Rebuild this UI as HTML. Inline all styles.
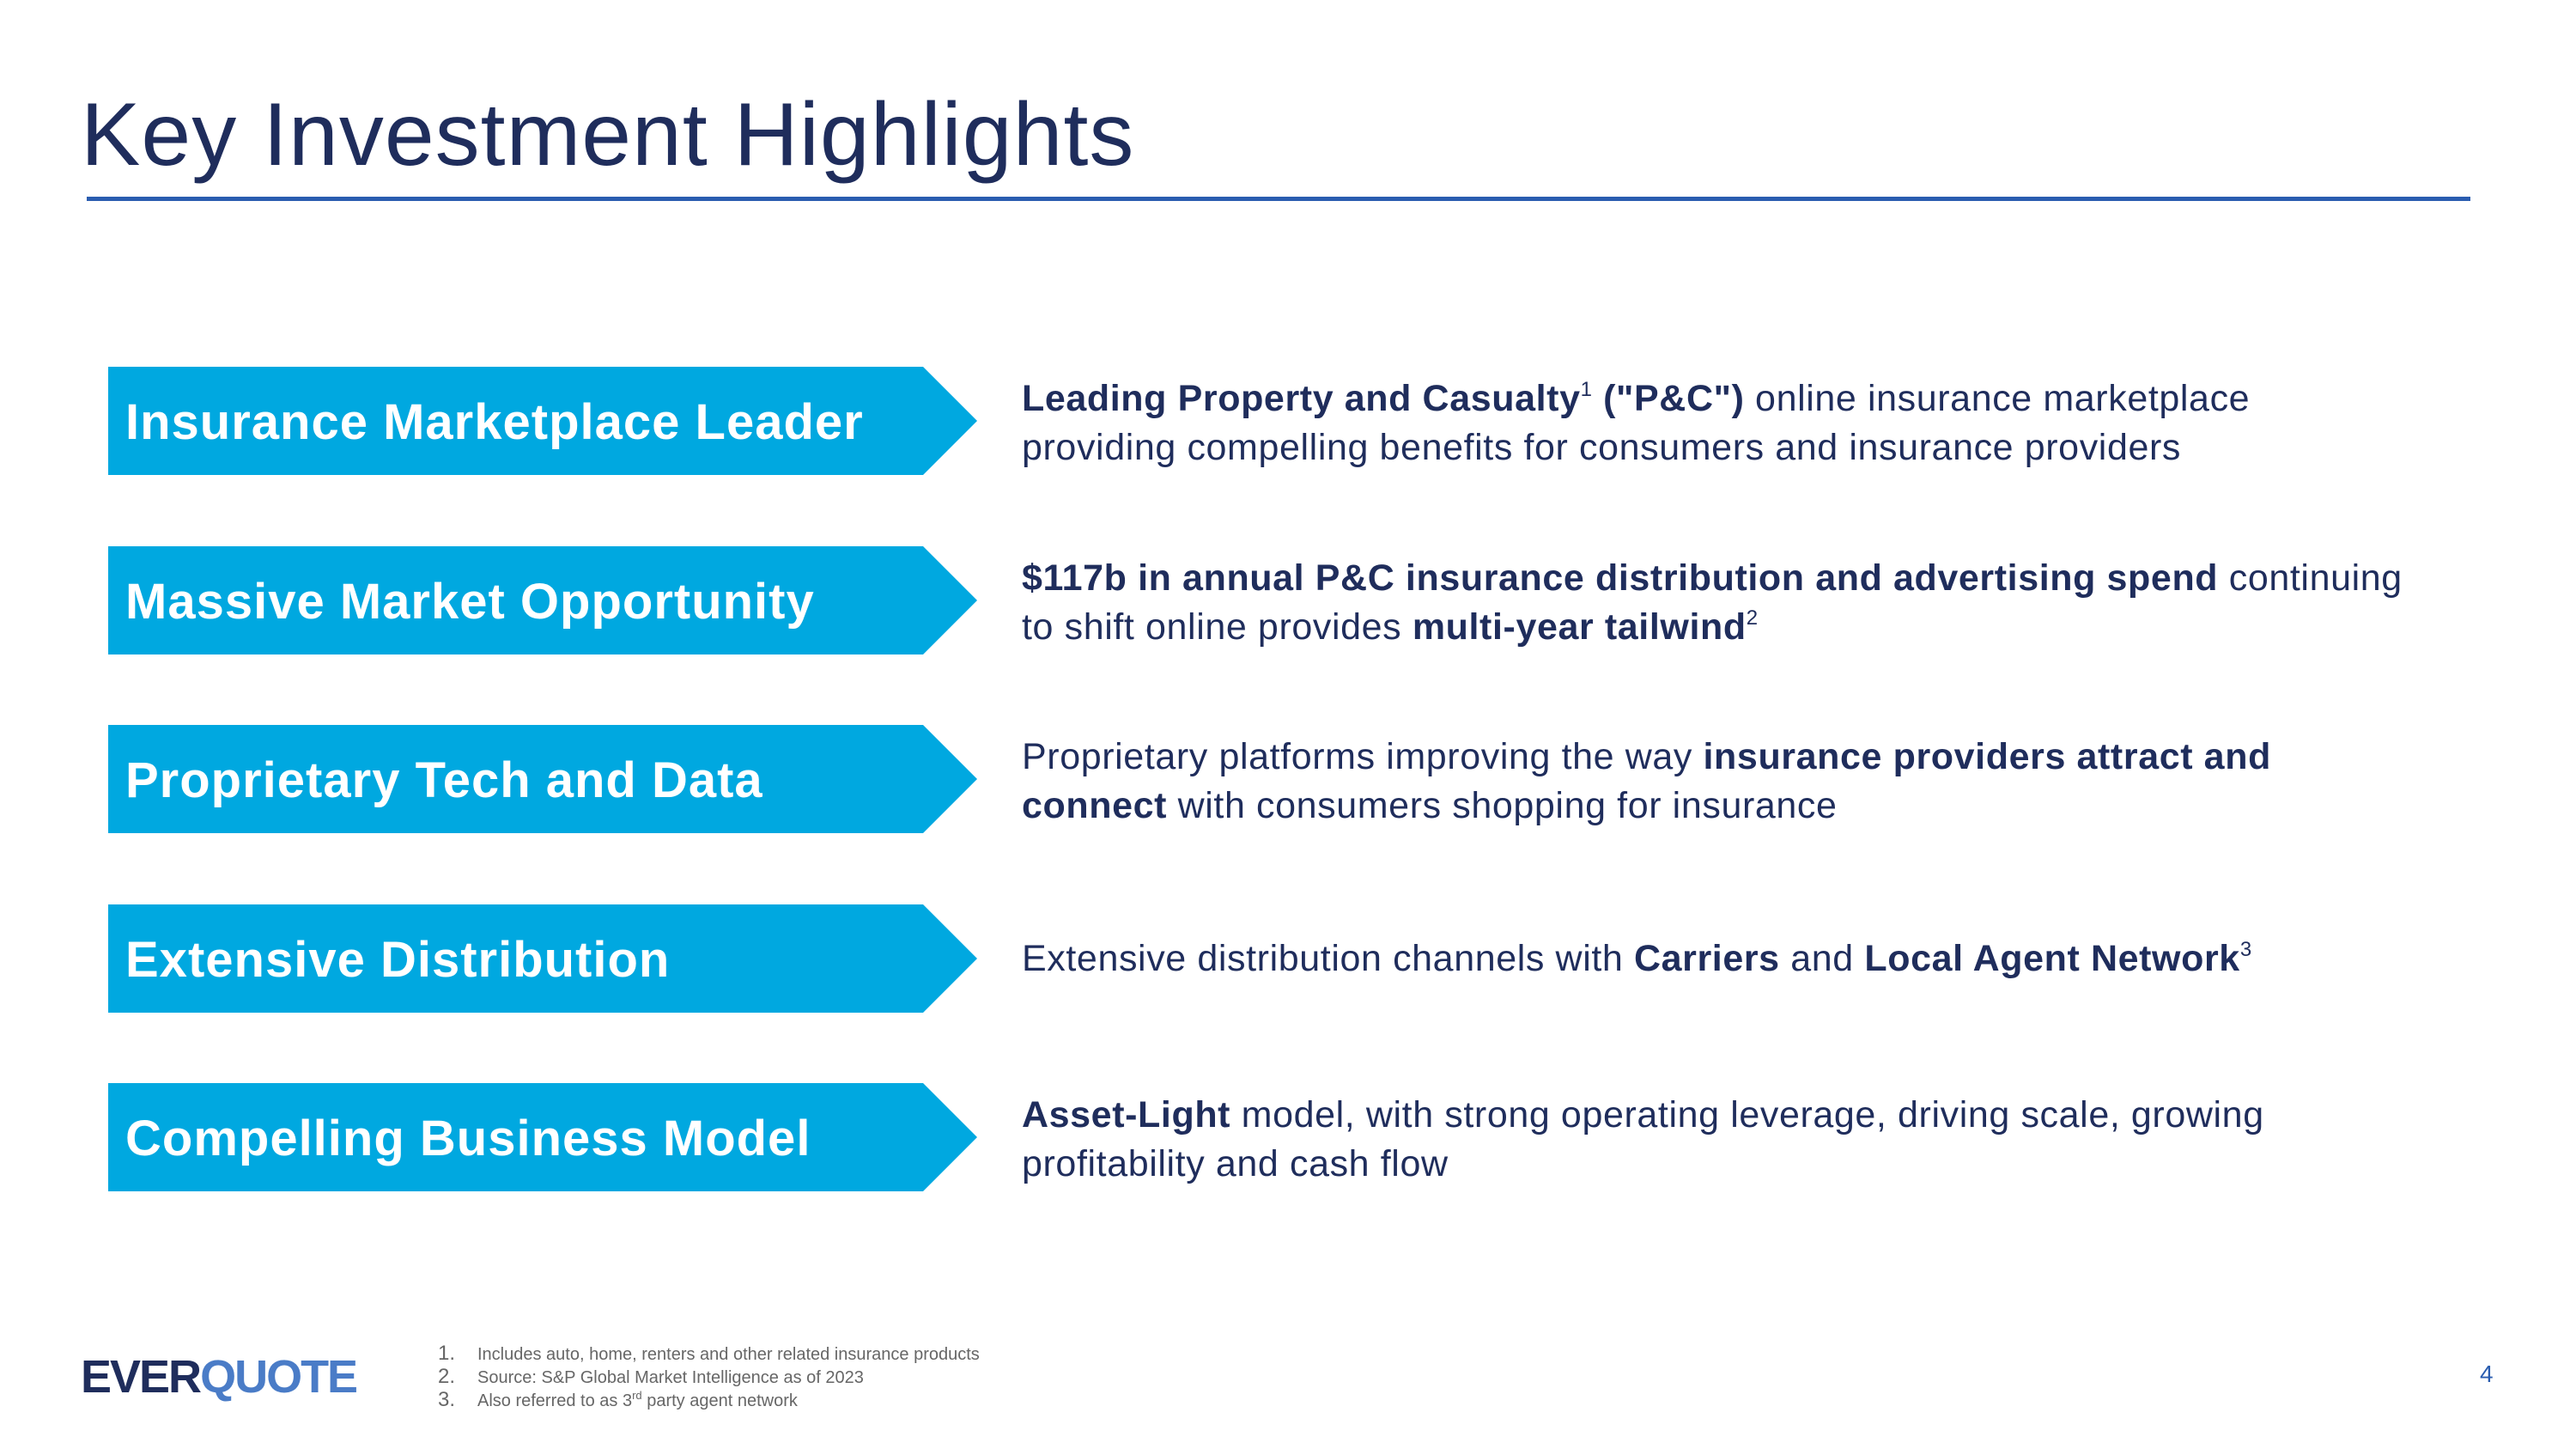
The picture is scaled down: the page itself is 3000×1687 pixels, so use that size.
<!DOCTYPE html>
<html><head><meta charset="utf-8"><style>
*{margin:0;padding:0;box-sizing:border-box}
body{width:3000px;height:1687px;background:#fff;position:relative;overflow:hidden;font-family:"Liberation Sans","DejaVu Sans",sans-serif}
sup{line-height:0;vertical-align:0.7em;font-size:24px;font-weight:normal}
.title{position:absolute;left:94px;top:98px;font-size:104px;color:#1f2d5c;letter-spacing:1px}
.rule{position:absolute;left:101px;top:229px;width:2776px;height:5px;background:#2a5db0}
.box{position:absolute;left:126px;width:1012px;height:126px}
.box svg{position:absolute;left:0;top:0}
.box span{position:absolute;left:20px;top:2px;line-height:126px;font-size:58px;color:#fff;font-weight:bold;letter-spacing:1px}
.desc{position:absolute;left:1190px;width:1750px;font-size:43px;line-height:57px;color:#1f2d5c;letter-spacing:0.6px}
.desc b{font-weight:bold}
.logo{position:absolute;left:94px;top:1572px;font-size:54px;font-weight:bold;letter-spacing:-2px}
.notes{position:absolute;left:510px;top:1563px;font-size:20px;line-height:25px;color:#666}
.notes div span{display:inline-block;width:46px;font-size:24px}
.notes sup{font-size:13px;vertical-align:0.6em}
.pg{position:absolute;left:2888px;top:1584px;font-size:28px;color:#2a5db0}
</style></head><body>
<div class="title">Key Investment Highlights</div>
<div class="rule"></div>

<div class="box" style="top:427px"><svg width="1012" height="126"><polygon points="0,0 949,0 1012,63 949,126 0,126" fill="#00a8e0"/></svg><span>Insurance Marketplace Leader</span></div>
<div class="box" style="top:636px"><svg width="1012" height="126"><polygon points="0,0 949,0 1012,63 949,126 0,126" fill="#00a8e0"/></svg><span>Massive Market Opportunity</span></div>
<div class="box" style="top:844px"><svg width="1012" height="126"><polygon points="0,0 949,0 1012,63 949,126 0,126" fill="#00a8e0"/></svg><span>Proprietary Tech and Data</span></div>
<div class="box" style="top:1053px"><svg width="1012" height="126"><polygon points="0,0 949,0 1012,63 949,126 0,126" fill="#00a8e0"/></svg><span>Extensive Distribution</span></div>
<div class="box" style="top:1261px"><svg width="1012" height="126"><polygon points="0,0 949,0 1012,63 949,126 0,126" fill="#00a8e0"/></svg><span>Compelling Business Model</span></div>

<div class="desc" style="top:436px"><b>Leading Property and Casualty</b><sup>1</sup> <b>("P&amp;C")</b> online insurance marketplace<br>providing compelling benefits for consumers and insurance providers</div>
<div class="desc" style="top:645px"><b>$117b in annual P&amp;C insurance distribution and advertising spend</b> continuing<br>to shift online provides <b>multi-year tailwind</b><sup>2</sup></div>
<div class="desc" style="top:853px">Proprietary platforms improving the way <b>insurance providers attract and<br>connect</b> with consumers shopping for insurance</div>
<div class="desc" style="top:1088px">Extensive distribution channels with <b>Carriers</b> and <b>Local Agent Network</b><sup>3</sup></div>
<div class="desc" style="top:1270px"><b>Asset-Light</b> model, with strong operating leverage, driving scale, growing<br>profitability and cash flow</div>

<div class="logo"><span style="color:#1f2d5c">EVER</span><span style="color:#4a7cc7">QUOTE</span></div>
<div class="notes">
<div><span>1.</span>Includes auto, home, renters and other related insurance products</div>
<div><span>2.</span>Source: S&amp;P Global Market Intelligence as of 2023</div>
<div><span>3.</span>Also referred to as 3<sup>rd</sup> party agent network</div>
</div>
<div class="pg">4</div>
</body></html>
